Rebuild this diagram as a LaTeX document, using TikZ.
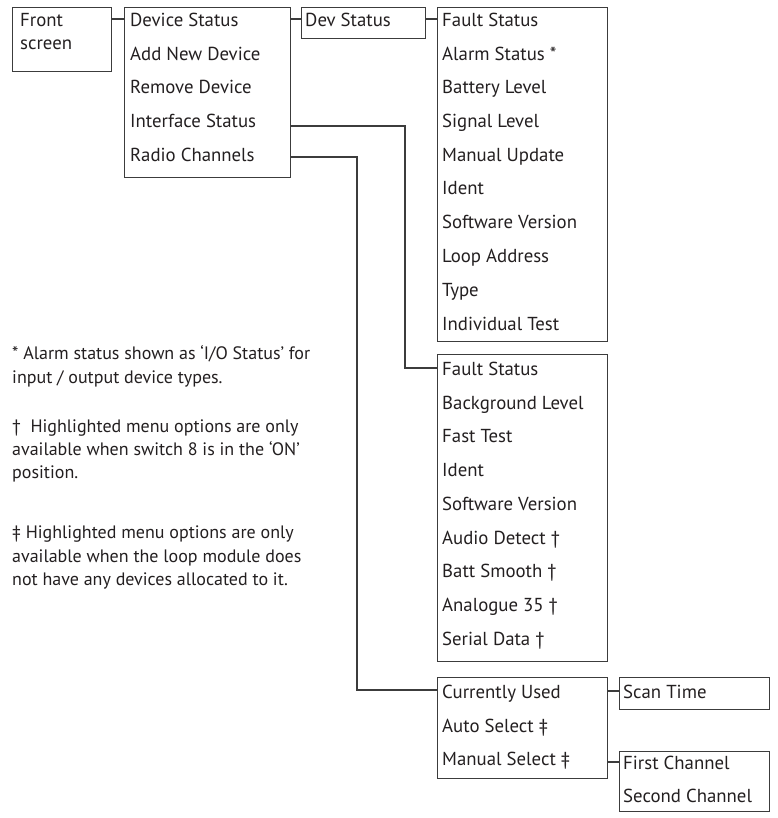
\documentclass[tikz,border=0pt]{standalone}
\usepackage{fontspec}
\setmainfont{PT Sans}
\begin{document}
\begin{tikzpicture}[x=1pt,y=-1pt,
  box/.style={draw=linec, line width=1.4pt, inner sep=0pt, anchor=north west},
  lbl/.style={anchor=base west, inner sep=0pt, text=textc, font=\fontsize{18.8}{22}\selectfont},
  note/.style={anchor=base west, inner sep=0pt, text=textc, font=\fontsize{18}{22}\selectfont},
  conn/.style={draw=linec, line width=1.4pt}]
\definecolor{linec}{HTML}{3C3C3C}
\definecolor{textc}{HTML}{231F20}
\useasboundingbox (0,0) rectangle (777,818);
% boxes
\node[box, minimum width=99pt, minimum height=64pt] (front) at (12,7) {};
\node[box, minimum width=166pt, minimum height=170pt] (menu) at (124,7) {};
\node[box, minimum width=124pt, minimum height=31pt] (dev) at (301,7) {};
\node[box, minimum width=170pt, minimum height=334pt] (fault1) at (437,7) {};
\node[box, minimum width=170pt, minimum height=307pt] (fault2) at (437,354) {};
\node[box, minimum width=170pt, minimum height=101pt] (radio) at (437,677) {};
\node[box, minimum width=150pt, minimum height=32pt] (scan) at (619,677) {};
\node[box, minimum width=150pt, minimum height=60pt] (chan) at (619,751) {};
% front
\node[lbl] (f1) at (20,27) {Front};
\node[lbl] (f2) at (20,50) {screen};
% menu
\node[lbl] (m1) at (130,27) {Device Status};
\node[lbl] (m2) at (130,60.5) {Add New Device};
\node[lbl] (m3) at (130,94) {Remove Device};
\node[lbl] (m4) at (130,128) {Interface Status};
\node[lbl] (m5) at (130,161.5) {Radio Channels};
% dev status
\node[lbl] (d1) at (305,27) {Dev Status};
% fault box 1
\node[lbl] (a1) at (442,27) {Fault Status};
\node[lbl] (a2) at (442,60.5) {Alarm Status *};
\node[lbl] (a3) at (442,94) {Battery Level};
\node[lbl] (a4) at (442,128) {Signal Level};
\node[lbl] (a5) at (442,161.5) {Manual Update};
\node[lbl] (a6) at (442,195) {Ident};
\node[lbl] (a7) at (442,229) {Software Version};
\node[lbl] (a8) at (442,262.5) {Loop Address};
\node[lbl] (a9) at (442,296) {Type};
\node[lbl] (a10) at (442,330) {Individual Test};
% fault box 2
\node[lbl] (b1) at (442,375) {Fault Status};
\node[lbl] (b2) at (442,409) {Background Level};
\node[lbl] (b3) at (442,442) {Fast Test};
\node[lbl] (b4) at (442,476) {Ident};
\node[lbl] (b5) at (442,510) {Software Version};
\node[lbl] (b6) at (442,544) {Audio Detect †};
\node[lbl] (b7) at (442,577) {Batt Smooth †};
\node[lbl] (b8) at (442,611) {Analogue 35 †};
\node[lbl] (b9) at (442,645) {Serial Data †};
% radio
\node[lbl] (r1) at (442,698) {Currently Used};
\node[lbl] (r2) at (442,732) {Auto Select ‡};
\node[lbl] (r3) at (442,765) {Manual Select ‡};
% scan / channel
\node[lbl] (s1) at (623,698) {Scan Time};
\node[lbl] (c1) at (623,769) {First Channel};
\node[lbl] (c2) at (623,802) {Second Channel};
% notes
\node[note] (n1) at (12,359) {* Alarm status shown as ‘I/O Status’ for};
\node[note] (n2) at (12,383) {input / output device types.};
\node[note] (n3) at (12,432) {†\ \ Highlighted menu options are only};
\node[note] (n4) at (12,455) {available when switch 8 is in the ‘ON’};
\node[note] (n5) at (12,478) {position.};
\node[note] (n6) at (12,538) {‡ Highlighted menu options are only};
\node[note] (n7) at (12,562) {available when the loop module does};
\node[note] (n8) at (12,585) {not have any devices allocated to it.};
% connector heights
\coordinate (h1) at (0,19);
\coordinate (j1) at (405,126);
\coordinate (j2) at (357,157);
\coordinate (h2) at (0,368);
\coordinate (h3) at (0,690);
\coordinate (h4) at (0,691);
\coordinate (h5) at (0,762);
% connectors
\draw[conn] (front.east |- h1) -- (menu.west |- h1);
\draw[conn] (menu.east |- h1) -- (dev.west |- h1);
\draw[conn] (dev.east |- h1) -- (fault1.west |- h1);
\draw[conn] (menu.east |- j1) -- (j1) |- (fault2.west |- h2);
\draw[conn] (menu.east |- j2) -- (j2) |- (radio.west |- h3);
\draw[conn] (radio.east |- h4) -- (scan.west |- h4);
\draw[conn] (radio.east |- h5) -- (chan.west |- h5);
\end{tikzpicture}
\end{document}
